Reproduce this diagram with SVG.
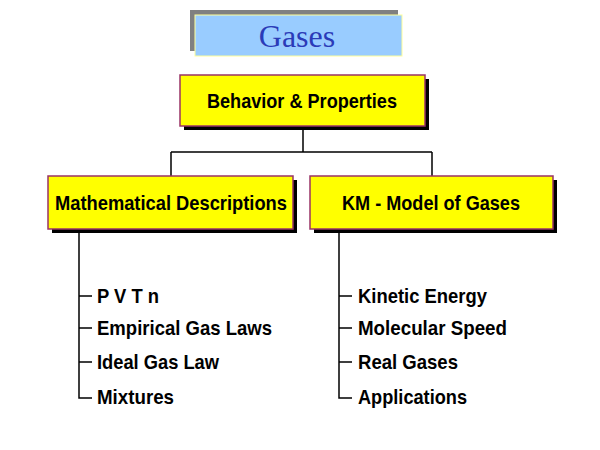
<svg xmlns="http://www.w3.org/2000/svg" width="600" height="450" viewBox="0 0 600 450">
<style>
.box{fill:#ffff00;stroke:#993366;stroke-width:1.5}
.sh{fill:#000}
.t{font-family:"Liberation Sans",Arial,sans-serif;font-weight:bold;fill:#000}
.h{font-size:21px;text-anchor:middle}
.i{font-size:21px}
.c{stroke:#000;stroke-width:1.5;fill:none}
</style>
<rect width="600" height="450" fill="#fff"/>
<g id="title">
<rect x="190" y="10" width="208" height="41" fill="#808080"/>
<rect x="195" y="15" width="207" height="41" fill="#99ccff" stroke="#ffff99" stroke-width="1"/>
<text x="297" y="47" font-family="Liberation Serif,serif" font-size="32" fill="#2b3bb8" text-anchor="middle">Gases</text>
</g>
<g id="connectors">
<path class="c" d="M303 126V152M171 152H432M171 152V177M432 152V177"/>
<path class="c" d="M79 229V398H92M79 296H92M79 328H92M79 362H92"/>
<path class="c" d="M339 229V398H352M339 296H352M339 328H352M339 362H352"/>
</g>
<g id="behavior">
<rect class="sh" x="184" y="79" width="245" height="51"/>
<rect class="box" x="180" y="75" width="245" height="51"/>
<text class="t h" x="302" y="108" textLength="190" lengthAdjust="spacingAndGlyphs">Behavior &amp; Properties</text>
</g>
<g id="math">
<rect class="sh" x="52" y="180" width="245" height="53"/>
<rect class="box" x="48" y="176" width="245" height="53"/>
<text class="t h" x="171" y="210" textLength="232" lengthAdjust="spacingAndGlyphs">Mathematical Descriptions</text>
</g>
<g id="km">
<rect class="sh" x="314" y="180" width="243" height="53"/>
<rect class="box" x="310" y="176" width="243" height="53"/>
<text class="t h" x="431" y="210" textLength="178" lengthAdjust="spacingAndGlyphs">KM - Model of Gases</text>
</g>
<g id="left-items" class="t i">
<text x="97" y="303" textLength="62" lengthAdjust="spacingAndGlyphs">P V T n</text>
<text x="97" y="335" textLength="175" lengthAdjust="spacingAndGlyphs">Empirical Gas Laws</text>
<text x="97" y="369" textLength="122" lengthAdjust="spacingAndGlyphs">Ideal Gas Law</text>
<text x="97" y="404" textLength="77" lengthAdjust="spacingAndGlyphs">Mixtures</text>
</g>
<g id="right-items" class="t i">
<text x="358" y="303" textLength="129" lengthAdjust="spacingAndGlyphs">Kinetic Energy</text>
<text x="358" y="335" textLength="149" lengthAdjust="spacingAndGlyphs">Molecular Speed</text>
<text x="358" y="369" textLength="100" lengthAdjust="spacingAndGlyphs">Real Gases</text>
<text x="358" y="404" textLength="109" lengthAdjust="spacingAndGlyphs">Applications</text>
</g>
</svg>
